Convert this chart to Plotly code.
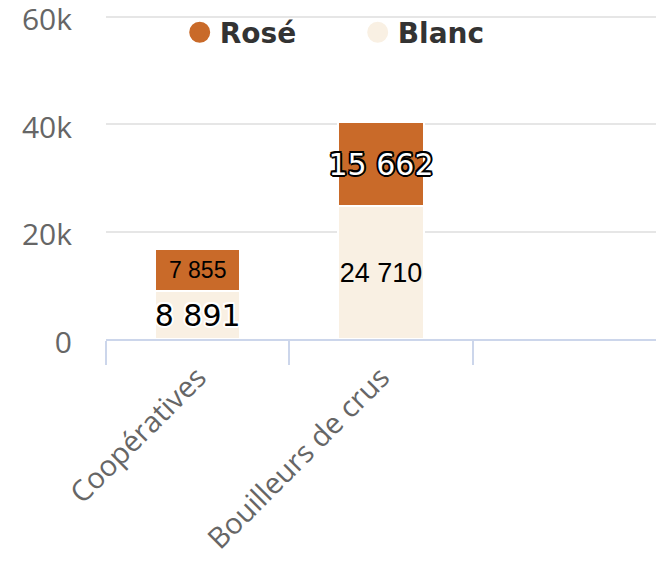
import plotly.graph_objects as go

categories = ["Coopératives", "Bouilleurs de crus"]
series_names = ["Rosé", "Blanc"]
blanc_values = [8891, 24710]
rose_values = [7855, 15662]
y_tick_values = [0, 20000, 40000, 60000]
y_tick_labels = ["0", "20k", "40k", "60k"]

rose_color = "#c96a29"
blanc_color = "#f9f0e3"

# The page body has an 8px default margin, so the figure is sized to fit
# the 667x561 window from that offset.
FIG_W, FIG_H = 659, 553


def fmt(v):
    return f"{v:,}".replace(",", " ")


def outline(col, d=2):
    h = round(d * 0.75, 2)
    pts = [(-d, 0), (d, 0), (0, -d), (0, d), (-h, -h), (h, -h), (-h, h), (h, h)]
    return ", ".join(f"{dx}px {dy}px 0 {col}" for dx, dy in pts)


white_outline = outline("#ffffff")
black_outline = outline("#000000")

fig = go.Figure()

fig.add_trace(go.Bar(
    x=categories, y=blanc_values, name=series_names[1],
    marker=dict(color=blanc_color, line=dict(color="#ffffff", width=2)),
    text=[fmt(v) for v in blanc_values],
    textposition="inside", insidetextanchor="middle", textangle=0,
    constraintext="none",
    textfont=dict(family=["DejaVu Sans", "Liberation Sans"], size=[30, 27],
                  color=["#000000", "#000000"],
                  shadow=[white_outline, "none"]),
    showlegend=False, hoverinfo="skip",
))
fig.add_trace(go.Bar(
    x=categories, y=rose_values, name=series_names[0],
    marker=dict(color=rose_color, line=dict(color="#ffffff", width=2)),
    text=[fmt(v) for v in rose_values],
    textposition="inside", insidetextanchor="middle", textangle=0,
    constraintext="none",
    textfont=dict(family=["Liberation Sans", "DejaVu Sans"], size=[23, 30],
                  color=["#000000", "#ffffff"],
                  shadow=["none", black_outline]),
    showlegend=False, hoverinfo="skip",
))

# legend entries (circle symbols)
for name, col in zip(series_names, [rose_color, blanc_color]):
    fig.add_trace(go.Scatter(
        x=[None], y=[None], mode="markers", name=name,
        marker=dict(symbol="circle", size=30, color=col, line=dict(color=col, width=8)),
        showlegend=True, hoverinfo="skip",
    ))

fig.update_layout(
    width=FIG_W, height=FIG_H,
    margin=dict(l=98, r=11, t=6, b=222, autoexpand=False),
    paper_bgcolor="#ffffff", plot_bgcolor="#ffffff",
    barmode="stack", bargap=0.536,
    font=dict(family="Open Sans", color="#666666"),
    showlegend=True,
    legend=dict(
        orientation="h", traceorder="normal",
        x=0.134, xanchor="left", y=0.943, yanchor="middle",
        font=dict(family="DejaVu Sans", size=28, color="#333333", weight="bold"),
        bgcolor="rgba(0,0,0,0)", entrywidth=133, entrywidthmode="pixels",
        itemclick=False, itemdoubleclick=False,
    ),
    xaxis=dict(
        type="category", categoryorder="array", categoryarray=categories,
        range=[-0.5, 2.5], tickson="boundaries", automargin=False,
        showline=True, linecolor="#ccd6eb", linewidth=2,
        ticks="outside", ticklen=24, tickwidth=2, tickcolor="#ccd6eb",
        tickangle=-45, ticklabelstandoff=8,
        tickfont=dict(family="Open Sans", size=29, color="#666666"),
        showgrid=False, zeroline=False, fixedrange=True,
    ),
    yaxis=dict(
        range=[0, 60500], tickmode="array", tickvals=y_tick_values, ticktext=y_tick_labels,
        showgrid=True, gridcolor="#e6e6e6", gridwidth=2, automargin=False,
        zeroline=False, showline=False, ticklabeloverflow="allow",
        ticklabelshift=3,
        tickfont=dict(family="Open Sans", size=30, color="#666666"),
        ticklabelstandoff=33, fixedrange=True,
    ),
)

fig.write_html("out.html")
